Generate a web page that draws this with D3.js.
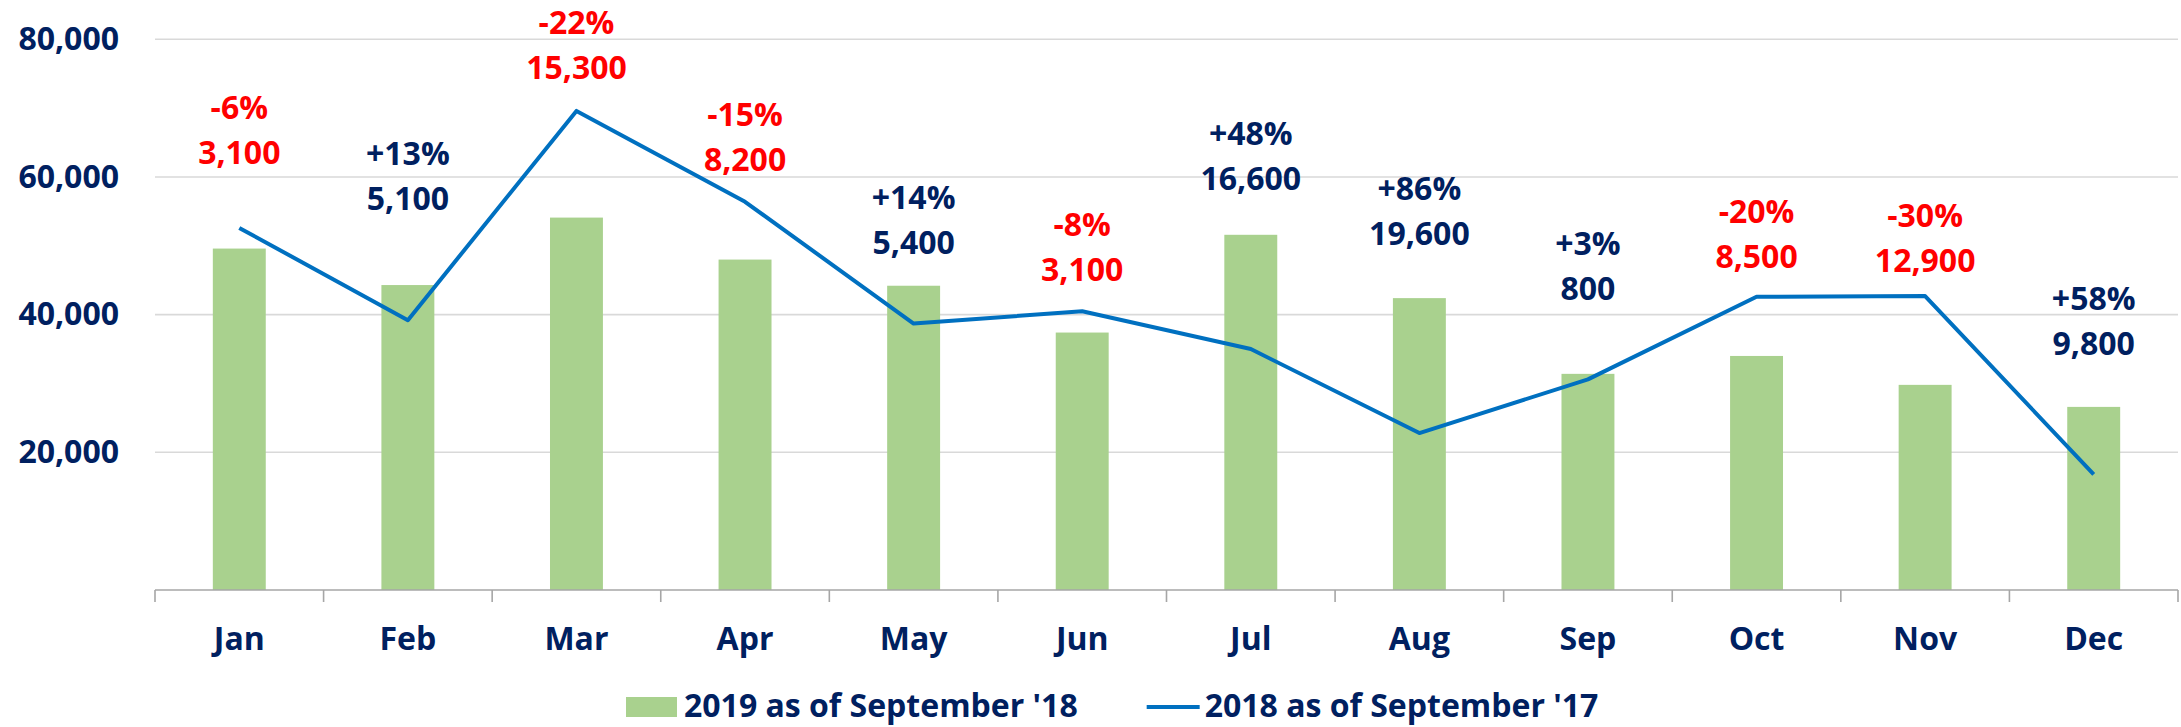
<!DOCTYPE html>
<html>
<head>
    <title>Monthly volume: 2019 vs 2018</title>
    <script src="https://d3js.org/d3.v7.min.js"></script>
    <style>
        body {
            margin: 0;
            background: #fff;
            font-family: "Open Sans", Arial, sans-serif;
        }
        svg text {
            font-weight: bold;
        }
    </style>
</head>
<body>
    <svg id="chart" width="2181" height="727"></svg>

    <script>
        const months = ["Jan", "Feb", "Mar", "Apr", "May", "Jun", "Jul", "Aug", "Sep", "Oct", "Nov", "Dec"];
        const bars2019 = [49600, 44300, 54100, 48000, 44200, 37400, 51600, 42400, 31400, 34000, 29800, 26600];
        const line2018 = [52600, 39200, 69600, 56400, 38700, 40500, 35000, 22800, 30600, 42600, 42700, 16800];
        const pctLabels = ["-6%", "+13%", "-22%", "-15%", "+14%", "-8%", "+48%", "+86%", "+3%", "-20%", "-30%", "+58%"];
        const diffLabels = ["3,100", "5,100", "15,300", "8,200", "5,400", "3,100", "16,600", "19,600", "800", "8,500", "12,900", "9,800"];
        // level (in chart units) where each annotation's first line sits
        const labelLevel = [68400, 61700, 80800, 67400, 55350, 51400, 64600, 56700, 48700, 53300, 52700, 40700];
        const yTicks = [20000, 40000, 60000, 80000];
        const legendNames = ["2019 as of September '18", "2018 as of September '17"];

        const navy = "#002060", red = "#FF0000", green = "#A9D18E", blue = "#0070C0";

        const svg = d3.select("#chart");
        const margin = { top: 39.3, right: 3, bottom: 137, left: 155 };
        const width = +svg.attr("width") - margin.left - margin.right,
              height = +svg.attr("height") - margin.top - margin.bottom;

        const chart = svg.append("g").attr("transform", `translate(${margin.left},${margin.top})`);

        const x = d3.scaleBand()
                    .domain(months)
                    .range([0, width])
                    .paddingInner(0.686)
                    .paddingOuter(0.343);
        const step = width / months.length;
        const xc = m => x(m) + x.bandwidth() / 2;

        const y = d3.scaleLinear().domain([0, 80000]).range([height, 0]);

        // gridlines
        chart.append("g")
            .selectAll("line")
            .data(yTicks)
            .join("line")
            .attr("x1", 0).attr("x2", width)
            .attr("y1", d => y(d)).attr("y2", d => y(d))
            .attr("stroke", "#D9D9D9")
            .attr("stroke-width", 1.6);

        // y labels
        const yAxis = chart.append("g")
            .call(d3.axisLeft(y).tickValues(yTicks).tickFormat(d3.format(",")).tickSize(0).tickPadding(36));
        yAxis.select(".domain").remove();
        yAxis.selectAll("text")
            .attr("fill", navy)
            .style("font-size", "32px")
            .style("font-family", "'Open Sans', Arial, sans-serif");

        // bars
        chart.selectAll(".bar")
            .data(months)
            .join("rect")
            .attr("class", "bar")
            .attr("x", d => x(d))
            .attr("width", x.bandwidth())
            .attr("y", (d, i) => y(bars2019[i]))
            .attr("height", (d, i) => height - y(bars2019[i]))
            .attr("fill", green);

        // line
        const line = d3.line()
            .x((d, i) => xc(months[i]))
            .y(d => y(d));
        chart.append("path")
            .datum(line2018)
            .attr("d", line)
            .attr("fill", "none")
            .attr("stroke", blue)
            .attr("stroke-width", 4)
            .attr("stroke-linejoin", "round");

        // x axis: ticks between categories
        const xAxis = chart.append("g").attr("transform", `translate(0,${height})`);
        xAxis.append("line")
            .attr("x1", 0).attr("x2", width)
            .attr("stroke", "#A6A6A6").attr("stroke-width", 1.6);
        xAxis.selectAll(".tick")
            .data(d3.range(months.length + 1))
            .join("line")
            .attr("class", "tick")
            .attr("x1", i => i * step).attr("x2", i => i * step)
            .attr("y1", 0).attr("y2", 12)
            .attr("stroke", "#A6A6A6").attr("stroke-width", 1.6);
        xAxis.selectAll(".mlabel")
            .data(months)
            .join("text")
            .attr("class", "mlabel")
            .attr("x", d => xc(d))
            .attr("y", 60)
            .attr("text-anchor", "middle")
            .attr("fill", navy)
            .style("font-size", "32px")
            .text(d => d);

        // annotations
        const ann = chart.selectAll(".ann")
            .data(months)
            .join("g")
            .attr("class", "ann")
            .attr("transform", (d, i) => `translate(${xc(d)},${y(labelLevel[i])})`)
            .attr("fill", (d, i) => pctLabels[i].startsWith("-") ? red : navy)
            .style("font-size", "32px")
            .attr("text-anchor", "middle");
        ann.append("text").text((d, i) => pctLabels[i]);
        ann.append("text").attr("y", 45).text((d, i) => diffLabels[i]);

        // legend
        const legend = svg.append("g").attr("transform", "translate(626,717)");
        const item1 = legend.append("g");
        item1.append("rect").attr("x", 0).attr("y", -20).attr("width", 51).attr("height", 20).attr("fill", green);
        const t1 = item1.append("text").attr("x", 58).attr("y", 0).attr("fill", navy)
            .style("font-size", "32px").text(legendNames[0]);
        const x2 = 58 + t1.node().getComputedTextLength() + 69;
        const item2 = legend.append("g").attr("transform", `translate(${x2},0)`);
        item2.append("line").attr("x1", 0).attr("x2", 53).attr("y1", -10).attr("y2", -10)
            .attr("stroke", blue).attr("stroke-width", 4);
        item2.append("text").attr("x", 58).attr("y", 0).attr("fill", navy)
            .style("font-size", "32px").text(legendNames[1]);
    </script>
</body>
</html>
